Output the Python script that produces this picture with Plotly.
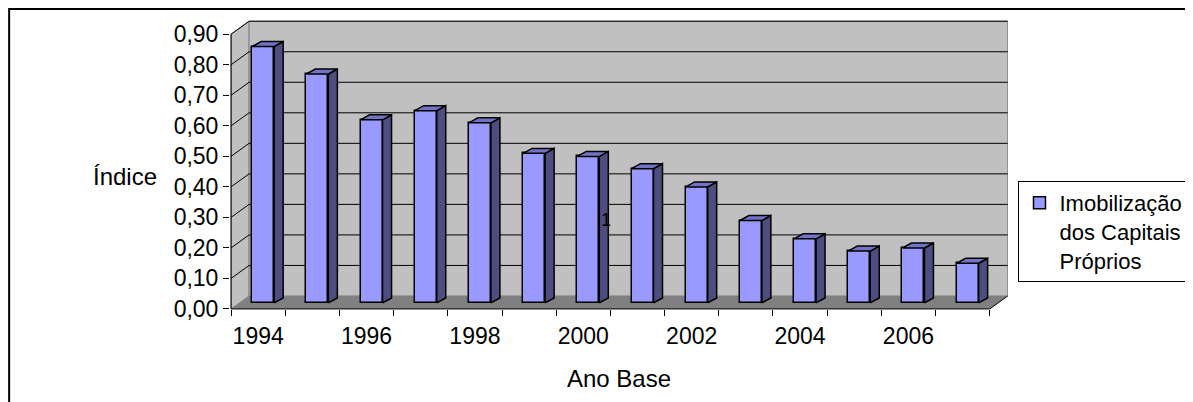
import plotly.graph_objects as go

# ---- data ----
years = [1994, 1995, 1996, 1997, 1998, 1999, 2000, 2001, 2002, 2003, 2004, 2005, 2006, 2007]
values = [0.84, 0.75, 0.60, 0.63, 0.59, 0.49, 0.48, 0.44, 0.38, 0.27, 0.21, 0.17, 0.18, 0.13]
label_years = [1994, 1996, 1998, 2000, 2002, 2004, 2006]
y_ticks = [0.0, 0.1, 0.2, 0.3, 0.4, 0.5, 0.6, 0.7, 0.8, 0.9]
series_name = "Imobilização<br>dos Capitais<br>Próprios"
y_title = "Índice"
x_title = "Ano Base"

# ---- 3D geometry (pixel sizes converted to data units) ----
PX_X = 54.21   # px per category
PX_Y = 305.6   # px per 1.0 of value
DXW = 18 / PX_X
DYW = 13 / PX_Y
BAR_SHIFT = 5 / PX_X
BAR_HALF = 11 / PX_X
BAR_DX = 9 / PX_X
BAR_DY = 5 / PX_Y
BAR_BASE = 6 / PX_Y

n = len(years)
idx = list(range(n))
x_lo, x_hi = -0.5, n - 0.5
y_top = y_ticks[-1]

FONT = "Liberation Sans, Arial, sans-serif"
FRONT = "#9999FF"
SIDE = "#4D4D80"
TOP = "#7373C6"

fig = go.Figure()

# front faces
xc = [i + BAR_SHIFT for i in idx]
fig.add_trace(go.Bar(
    x=xc, y=values, base=[BAR_BASE] * n, width=2 * BAR_HALF,
    marker=dict(color=FRONT, line=dict(color="black", width=1.5)),
    name=series_name, showlegend=True, hoverinfo="skip",
))

# side and top faces
sx, sy, tx, ty = [], [], [], []
for c, v in zip(xc, values):
    x0, x1 = c - BAR_HALF, c + BAR_HALF
    b, t = BAR_BASE, BAR_BASE + v
    sx += [x1, x1, x1 + BAR_DX, x1 + BAR_DX, x1, None]
    sy += [b, t, t + BAR_DY, b + BAR_DY, b, None]
    tx += [x0, x1, x1 + BAR_DX, x0 + BAR_DX, x0, None]
    ty += [t, t, t + BAR_DY, t + BAR_DY, t, None]
fig.add_trace(go.Scatter(x=sx, y=sy, mode="lines", fill="toself", fillcolor=SIDE,
                         line=dict(color="black", width=1.5), showlegend=False, hoverinfo="skip"))
fig.add_trace(go.Scatter(x=tx, y=ty, mode="lines", fill="toself", fillcolor=TOP,
                         line=dict(color="black", width=1.5), showlegend=False, hoverinfo="skip"))

shapes = []
# left wall
shapes.append(dict(type="path", xref="x", yref="y", layer="below",
                   path=f"M{x_lo},0 L{x_lo},{y_top} L{x_lo+DXW},{y_top+DYW} L{x_lo+DXW},{DYW} Z",
                   fillcolor="#C0C0C0", line=dict(color="#808080", width=1)))
# back wall
shapes.append(dict(type="rect", xref="x", yref="y", layer="below",
                   x0=x_lo + DXW, x1=x_hi + DXW, y0=DYW, y1=y_top + DYW,
                   fillcolor="#C0C0C0", line=dict(color="#808080", width=1)))
# floor
shapes.append(dict(type="path", xref="x", yref="y", layer="below",
                   path=f"M{x_lo},0 L{x_hi},0 L{x_hi+DXW},{DYW} L{x_lo+DXW},{DYW} Z",
                   fillcolor="#808080", line=dict(width=0)))
# gridlines
for t in y_ticks[1:]:
    shapes.append(dict(type="line", xref="x", yref="y", layer="below",
                       x0=x_lo + DXW, x1=x_hi + DXW, y0=t + DYW, y1=t + DYW,
                       line=dict(color="black", width=1)))
    shapes.append(dict(type="line", xref="x", yref="y", layer="below",
                       x0=x_lo, x1=x_lo + DXW, y0=t, y1=t + DYW,
                       line=dict(color="black", width=1)))
# front axis lines
shapes.append(dict(type="line", xref="x", yref="y", layer="below",
                   x0=x_lo, x1=x_hi, y0=0, y1=0, line=dict(color="black", width=1)))
shapes.append(dict(type="line", xref="x", yref="y", layer="below",
                   x0=x_hi, x1=x_hi + DXW, y0=0, y1=DYW, line=dict(color="black", width=1)))
shapes.append(dict(type="line", xref="x", yref="y", layer="below",
                   x0=x_lo, x1=x_lo, y0=0, y1=y_top, line=dict(color="black", width=1)))

# page offset: the html body adds 8px margin; work in page pixels and subtract it
OFF = 8
W, H = 1193 - OFF, 402 - OFF
ML, MT = 230 - OFF, 20 - OFF
PW = 778.5
PH = 292
MR = W - ML - PW
MB = H - MT - PH
def px_x(p): return (p - OFF - ML) / PW
def px_y(p): return (MT + PH - (p - OFF)) / PH

# outer chart border (left & top visible)
shapes.append(dict(type="rect", xref="paper", yref="paper",
                   x0=px_x(9), x1=px_x(1215), y0=px_y(420), y1=px_y(9),
                   line=dict(color="black", width=2), fillcolor="rgba(0,0,0,0)"))

x_range = [-0.52, x_hi + DXW + 0.005]
y_range = [-0.01, y_top + DYW + 0.004]

fig.update_layout(
    width=W, height=H,
    margin=dict(l=ML, r=MR, t=MT, b=MB, autoexpand=False),
    paper_bgcolor="white", plot_bgcolor="rgba(0,0,0,0)",
    separators=",.",
    font=dict(family=FONT, size=22, color="black"),
    shapes=shapes,
    bargap=0,
    xaxis=dict(range=x_range, tickmode="array",
               tickvals=[years.index(y) for y in label_years],
               ticktext=[str(y) for y in label_years],
               ticks="outside", ticklen=3, tickcolor="rgba(0,0,0,0)",
               showgrid=False, zeroline=False, showline=False,
               tickfont=dict(size=23),
               title=dict(text=x_title, font=dict(size=24), standoff=22)),
    xaxis2=dict(range=x_range, overlaying="x", anchor="free", position=px_y(309),
                side="bottom", tickmode="array",
                tickvals=[i - 0.5 for i in range(n + 1)],
                showticklabels=False, ticks="outside", ticklen=6, tickcolor="black",
                showgrid=False, zeroline=False, showline=False),
    yaxis=dict(range=y_range, tickmode="array", tickvals=y_ticks, tickformat=".2f",
               ticks="outside", ticklen=6, tickcolor="black",
               showgrid=False, zeroline=False, showline=False,
               tickfont=dict(size=23)),
    legend=dict(x=px_x(1019), y=px_y(181), xanchor="left", yanchor="top",
                bgcolor="white", bordercolor="black", borderwidth=1,
                font=dict(size=22), valign="top", tracegroupgap=0),
    annotations=[
        dict(text=y_title, xref="paper", yref="paper", x=px_x(125), y=px_y(176),
             xanchor="center", yanchor="middle", showarrow=False, font=dict(size=24)),
        dict(text="1", xref="x", yref="y", x=(606 - 231) / PX_X - 0.5, y=(309 - 220) / PX_Y,
             xanchor="center", yanchor="middle", showarrow=False, font=dict(size=18)),
    ],
)

# invisible trace to activate xaxis2
fig.add_trace(go.Scatter(x=[x_lo], y=[0], xaxis="x2", yaxis="y", mode="markers",
                         marker=dict(opacity=0), showlegend=False, hoverinfo="skip"))

fig.write_html("out.html")
